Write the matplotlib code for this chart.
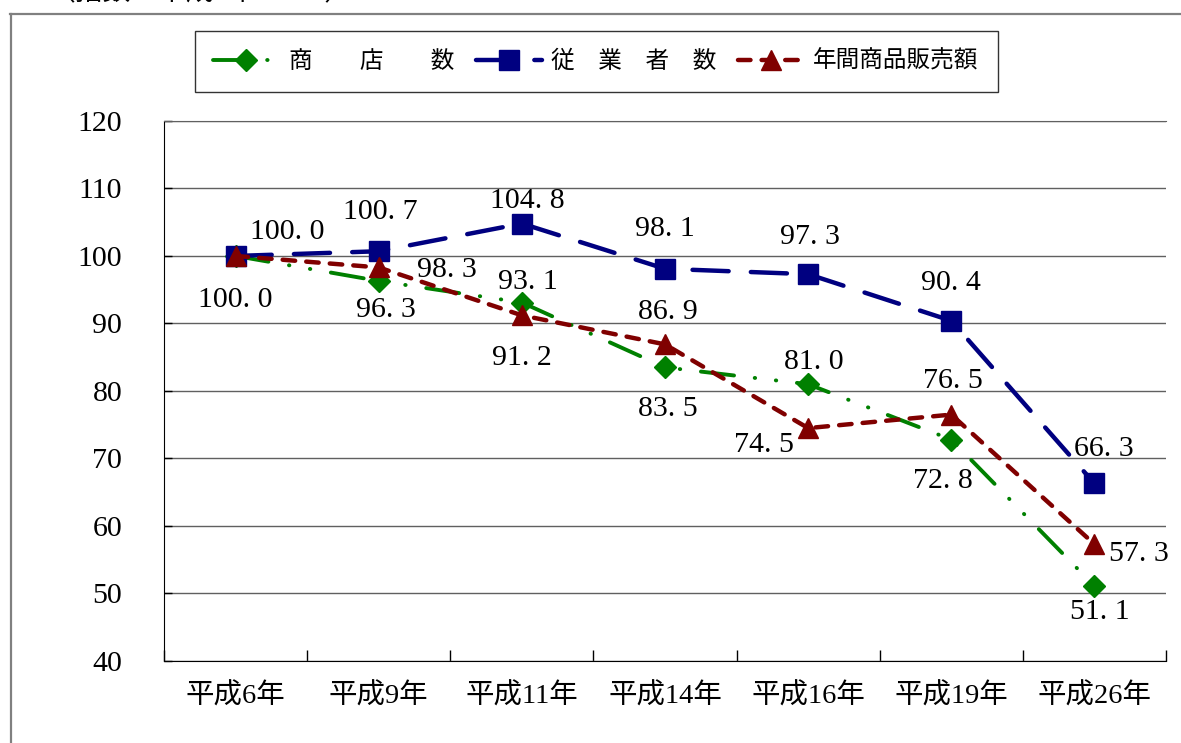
import matplotlib
matplotlib.use('Agg')
import matplotlib.pyplot as plt
from matplotlib.lines import Line2D

plt.rcParams['lines.scale_dashes'] = False

# data (index, 平成6年 = 100)
years = ['平成6年', '平成9年', '平成11年', '平成14年', '平成16年', '平成19年', '平成26年']
shops = [100.0, 96.3, 93.1, 83.5, 81.0, 72.8, 51.1]
workers = [100.0, 100.7, 104.8, 98.1, 97.3, 90.4, 66.3]
sales = [100.0, 98.3, 91.2, 86.9, 74.5, 76.5, 57.3]
series_names = ['商　　店　　数', '従　業　者　数', '年間商品販売額']
y_ticks = [40, 50, 60, 70, 80, 90, 100, 110, 120]
note = '（指数：平成6年＝100）'

# label offsets (points) relative to each marker, None = no label
shops_off = [(0, -32), (5, -21), (4, 15), (2, -30), (4, 16), (-6, -30), (4, -19)]
workers_off = [(37, 17), (1, 28), (4, 16), (0, 29), (1, 27), (0, 27), (7, 25)]
sales_off = [None, (49, -2), (0, -31), (2, 23), (-32, -12), (1, 24), (32, -7)]

serif_jp = ['Liberation Serif', 'Noto Sans CJK JP']

fig = plt.figure(figsize=(11.81, 7.43), dpi=100)
ax = fig.add_axes([0.1389, 0.1104, 0.8484, 0.7268])

x = list(range(len(years)))

ax.plot(x, shops, color='#008000', lw=2.8, linestyle=(0, (24, 15, 0.3, 15, 0.3, 15)),
        dash_capstyle='round', marker='D', markersize=11, markeredgewidth=1,
        label=series_names[0], zorder=3)
ax.plot(x, workers, color='#000080', lw=3.2, linestyle=(0, (26, 16)),
        dash_capstyle='round', marker='s', markersize=14, markeredgewidth=1,
        label=series_names[1], zorder=4)
ax.plot(x, sales, color='#800000', lw=3.2, linestyle=(0, (9, 8)),
        dash_capstyle='round', marker='^', markersize=15, markeredgewidth=1,
        label=series_names[2], zorder=5)

for vals, offs in [(shops, shops_off), (workers, workers_off), (sales, sales_off)]:
    for i, v in enumerate(vals):
        if offs[i] is None:
            continue
        ax.annotate(f'{v:.1f}'.replace('.', '. '), (i, v), xytext=offs[i],
                    textcoords='offset points', ha='center', va='center',
                    fontsize=21.5, family=serif_jp, zorder=6)

ax.set_xlim(-0.5, len(years) - 0.5)
ax.set_ylim(40, 120)
ax.set_yticks(y_ticks)
ax.set_yticklabels([str(t) for t in y_ticks], family='Liberation Serif', fontsize=21.5)
ax.tick_params(axis='y', direction='in', length=6, width=1, pad=30)

# category boundaries carry the ticks, names sit in the middle
ax.set_xticks([i - 0.5 for i in range(len(years) + 1)])
ax.set_xticklabels([])
ax.set_xticks(x, minor=True)
ax.set_xticklabels(years, minor=True, family=serif_jp, fontsize=20.5)
ax.tick_params(axis='x', which='major', direction='in', length=8, width=1)
ax.tick_params(axis='x', which='minor', length=0, pad=16)

ax.grid(axis='y', color='#606060', lw=1)
ax.set_axisbelow(True)
ax.spines['right'].set_visible(False)
ax.spines['top'].set_color('#606060')
ax.spines['left'].set_color('black')
ax.spines['bottom'].set_color('black')

leg = ax.legend(loc='center', bbox_to_anchor=(0.5047, 0.9172), bbox_transform=fig.transFigure,
                ncol=3, prop={'family': 'Noto Sans CJK JP', 'size': 17}, frameon=True,
                fancybox=False, handlelength=2.8, handletextpad=0.4, columnspacing=0.9,
                borderpad=0.8, numpoints=1)
leg.get_frame().set_edgecolor('black')
leg.get_frame().set_linewidth(1)

# outer frame of the original sheet, its note is cut at the top edge
W, H = 1181, 743
fig.add_artist(Line2D([10 / W, 1.0], [1 - 14 / H, 1 - 14 / H], color='#808080', lw=1.6))
fig.add_artist(Line2D([11 / W, 11 / W], [0, 1 - 14 / H], color='#808080', lw=1.6))
fig.text(48 / W, 1 + 7 / H, note, ha='left', va='center', fontsize=20, family=serif_jp)

plt.savefig('out.png', dpi=100)
